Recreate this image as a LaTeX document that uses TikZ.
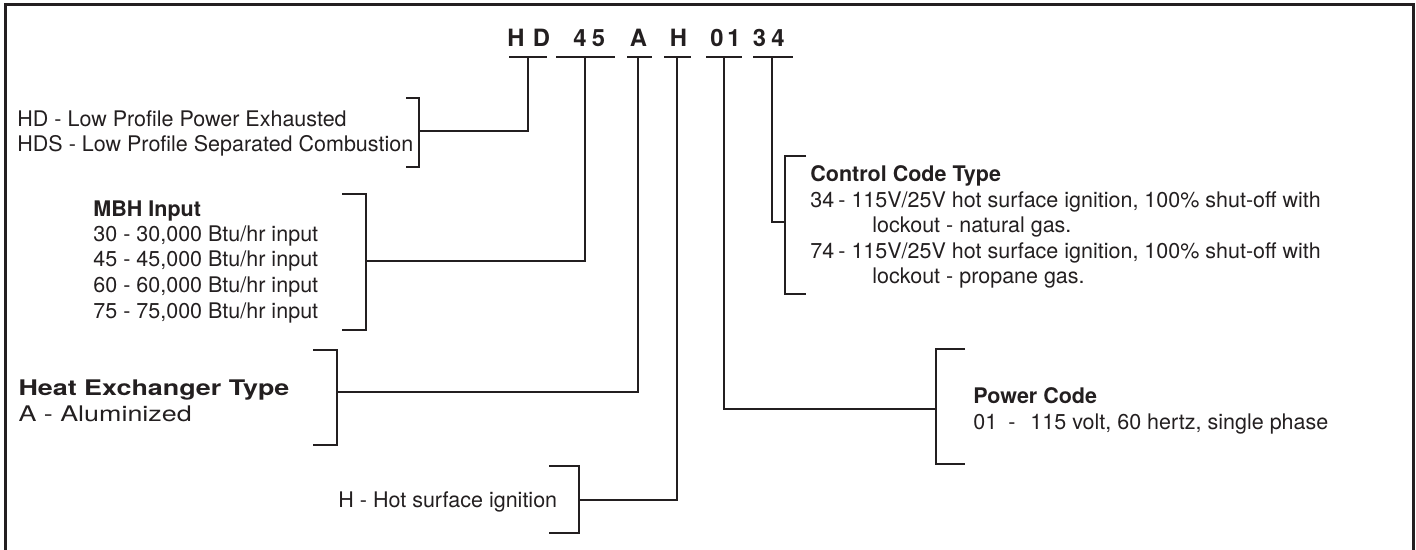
\documentclass[tikz,border=0pt]{standalone}
\usepackage{fontspec}
\setmainfont{TeX Gyre Heros}
\definecolor{ink}{HTML}{231F20}
\begin{document}
\begin{tikzpicture}[x=0.5pt,y=-0.5pt,
  line/.style={draw=ink,line width=1.1pt},
  frame/.style={draw=ink,line width=1.5pt},
  code/.style={inner sep=0pt,anchor=base,text=ink,font=\fontsize{11.9}{14}\selectfont\bfseries},
  txt/.style={inner sep=0pt,anchor=base west,text=ink,align=left,font=\fontsize{10.75}{12.75}\selectfont},
  txtb/.style={txt,font=\fontsize{10.75}{12.5}\selectfont}]
\useasboundingbox (0,0) rectangle (1416,550);
% frame (open at bottom)
\draw[frame] (5,560) -- (5,5) -- (1413,5) -- (1413,560);
% code letters
\node[code] (c1) at (516,47) {H};
\node[code] (c2) at (541.5,47) {D};
\node[code] (c3) at (580,47) {4};
\node[code] (c4) at (598.5,47) {5};
\node[code] (c5) at (638.5,47) {A};
\node[code] (c6) at (678.5,47) {H};
\node[code] (c7) at (717,47) {0};
\node[code] (c8) at (734,47) {1};
\node[code] (c9) at (759.5,47) {3};
\node[code] (c10) at (778,47) {4};
% underline bars
\draw[line] (509,57) -- (547,57);
\draw[line] (556,57) -- (615,57);
\draw[line] (627,57) -- (652,57);
\draw[line] (664,57) -- (691,57);
\draw[line] (706,57) -- (742,57);
\draw[line] (753,57) -- (793,57);
% stem coordinates
\coordinate (sHD) at (528,57);
\coordinate (s45) at (585,57);
\coordinate (sA) at (638,57);
\coordinate (sH) at (677,57);
\coordinate (s01) at (724,57);
\coordinate (s34) at (772,57);
% bracket join points
\coordinate (bHD) at (419,131);
\coordinate (b45) at (366,261);
\coordinate (bA) at (337,392);
\coordinate (bH) at (579,500);
\coordinate (b01) at (936,409);
\coordinate (b34) at (785,222);
% connectors
\draw[line] (sHD) |- (bHD);
\draw[line] (s45) |- (b45);
\draw[line] (sA) |- (bA);
\draw[line] (sH) |- (bH);
\draw[line] (s01) |- (b01);
\draw[line] (s34) |- (b34);
% brackets
\draw[line] (406,98) -- (419,98) -- (419,167) -- (406,167);
\draw[line] (342,194) -- (366,194) -- (366,330) -- (342,330);
\draw[line] (313,350) -- (337,350) -- (337,445) -- (313,445);
\draw[line] (549,466) -- (579,466) -- (579,533) -- (549,533);
\draw[line] (965,349) -- (936,349) -- (936,464) -- (965,464);
\draw[line] (806,156) -- (785,156) -- (785,294) -- (806,294);
% texts (anchored at the baseline of their last line)
\node[txtb] (tHD) at (17,152) {HD - Low Profile Power Exhausted\\HDS - Low Profile Separated Combustion};
\node[txt] (tMBH) at (93,318) {\textbf{MBH Input}\\30 - 30,000 Btu/hr input\\45 - 45,000 Btu/hr input\\60 - 60,000 Btu/hr input\\75 - 75,000 Btu/hr input};
\node[txt,xscale=1.25] (tA) at (18,421) {\textbf{Heat Exchanger Type}\\A - Aluminized};
\node[txt] (tH) at (338,507) {H - Hot surface ignition};
\node[txt] (tC) at (810,284) {\textbf{Control Code Type}\\\makebox[14pt][l]{34}- 115V/25V hot surface ignition, 100\% shut-off with\\\hspace*{31pt}lockout - natural gas.\\\makebox[14pt][l]{74}- 115V/25V hot surface ignition, 100\% shut-off with\\\hspace*{31pt}lockout - propane gas.};
\node[txt] (tP) at (973,429) {\textbf{Power Code}\\\makebox[17.5pt][l]{01}\makebox[11pt][l]{-}115 volt, 60 hertz, single phase};
\end{tikzpicture}
\end{document}
